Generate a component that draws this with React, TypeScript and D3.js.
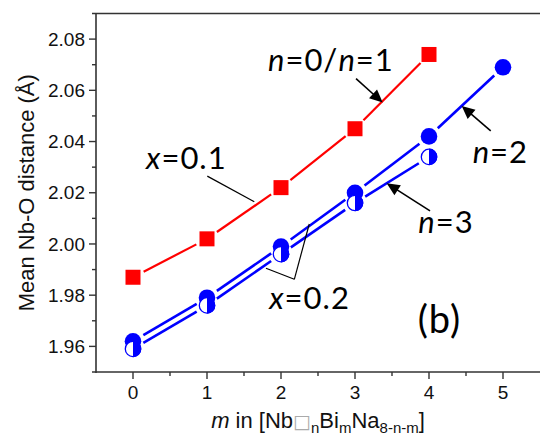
import React from "react";
import * as d3 from "d3";

// data
const mRed = [0, 1, 2, 3, 4];
const distRed = [1.987, 2.002, 2.022, 2.045, 2.074];
const mN2 = [0, 1, 2, 3, 4, 5];
const distN2 = [1.962, 1.979, 1.999, 2.02, 2.042, 2.069];
const mN3 = [0, 1, 2, 3, 4];
const distN3 = [1.959, 1.976, 1.996, 2.016, 2.034];

const xTicks = [0, 1, 2, 3, 4, 5];
const xMinor = [0.5, 1.5, 2.5, 3.5, 4.5];
const yTicks = [1.96, 1.98, 2.0, 2.02, 2.04, 2.06, 2.08];
const yMinor = [1.97, 1.99, 2.01, 2.03, 2.05, 2.07];

const W = 540;
const H = 438;
const margin = { top: 13.5, right: 0, bottom: 66, left: 96 };

const RED = "#ff0000";
const BLUE = "#0000ff";
const AXIS = "#333";
const tickFont = "'Liberation Sans', Arial, sans-serif";
const noteFont = "Lato, 'Open Sans', sans-serif";

const x = d3.scaleLinear().domain([-0.5, 5.5]).range([margin.left, W - margin.right]);
const y = d3.scaleLinear().domain([1.95, 2.09]).range([H - margin.bottom, margin.top]);

type Seg = [number, number, number, number];

// line segments that stop short of the markers (Origin style)
function gapSegments(xs: number[], ys: number[], gap: number): Seg[] {
  const pts = xs.map((v, i) => [x(v), y(ys[i])]);
  const segs: Seg[] = [];
  for (let i = 0; i < pts.length - 1; i++) {
    const [x1, y1] = pts[i];
    const [x2, y2] = pts[i + 1];
    const len = Math.hypot(x2 - x1, y2 - y1);
    const ux = (x2 - x1) / len;
    const uy = (y2 - y1) / len;
    segs.push([x1 + ux * gap, y1 + uy * gap, x2 - ux * gap, y2 - uy * gap]);
  }
  return segs;
}

const Arrow = ({ from, to }: { from: [number, number]; to: [number, number] }) => {
  const x1 = x(from[0]);
  const y1 = y(from[1]);
  const x2 = x(to[0]);
  const y2 = y(to[1]);
  const len = Math.hypot(x2 - x1, y2 - y1);
  const ux = (x2 - x1) / len;
  const uy = (y2 - y1) / len;
  const hl = 13;
  const hw = 6;
  const bx = x2 - ux * hl;
  const by = y2 - uy * hl;
  const pts = [
    [x2, y2],
    [bx - uy * hw, by + ux * hw],
    [bx + uy * hw, by - ux * hw],
  ];
  return (
    <g>
      <line x1={x1} y1={y1} x2={bx + ux * 2} y2={by + uy * 2} stroke="#000" strokeWidth={1.6} />
      <polygon points={pts.map((p) => p.join(",")).join(" ")} fill="#000" />
    </g>
  );
};

const Leader = ({ a, b }: { a: [number, number]; b: [number, number] }) => (
  <line x1={x(a[0])} y1={y(a[1])} x2={x(b[0])} y2={y(b[1])} stroke="#000" strokeWidth={1.2} />
);

const Note = ({ at, children, size = 31 }: { at: [number, number]; children: React.ReactNode; size?: number }) => (
  <text x={x(at[0])} y={y(at[1])} fontFamily={noteFont} fontSize={size} letterSpacing={1} fill="#000">
    {children}
  </text>
);

export default function App() {
  const r = 8.3;
  const sq = 15;
  const halfPath = `M0,${-r} A${r},${r} 0 0 1 0,${r} Z`;

  return (
    <svg width={W} height={H} style={{ position: "absolute", left: 0, top: 0, background: "#fff" }}>
      {/* axes frame */}
      <line x1={92} x2={W + 2} y1={y(2.09)} y2={y(2.09)} stroke={AXIS} strokeWidth={1.6} />
      <line x1={92} x2={W + 2} y1={y(1.95)} y2={y(1.95)} stroke={AXIS} strokeWidth={1.6} />
      <line x1={x(-0.5)} x2={x(-0.5)} y1={y(2.09)} y2={y(1.95) + 1} stroke={AXIS} strokeWidth={1.6} />

      {/* y ticks */}
      {yTicks.map((t) => (
        <g key={t}>
          <line x1={x(-0.5) - 7} x2={x(-0.5)} y1={y(t)} y2={y(t)} stroke={AXIS} strokeWidth={1.4} />
          <text
            x={x(-0.5) - 11}
            y={y(t)}
            dy="0.35em"
            textAnchor="end"
            fontFamily={tickFont}
            fontSize={19}
            fill="#111"
          >
            {t.toFixed(2)}
          </text>
        </g>
      ))}
      {yMinor.map((t) => (
        <line key={t} x1={x(-0.5) - 4} x2={x(-0.5)} y1={y(t)} y2={y(t)} stroke={AXIS} strokeWidth={1.4} />
      ))}

      {/* x ticks */}
      {xTicks.map((t) => (
        <g key={t}>
          <line x1={x(t)} x2={x(t)} y1={y(1.95)} y2={y(1.95) + 7} stroke={AXIS} strokeWidth={1.4} />
          <text x={x(t)} y={y(1.95) + 27} textAnchor="middle" fontFamily={tickFont} fontSize={19} fill="#111">
            {t}
          </text>
        </g>
      ))}
      {xMinor.map((t) => (
        <line key={t} x1={x(t)} x2={x(t)} y1={y(1.95)} y2={y(1.95) + 4} stroke={AXIS} strokeWidth={1.4} />
      ))}

      {/* axis titles */}
      <text
        transform={`translate(34,${(y(2.09) + y(1.95)) / 2}) rotate(-90)`}
        textAnchor="middle"
        fontFamily={tickFont}
        fontSize={22}
        fill="#111"
      >
        Mean Nb-O distance (Å)
      </text>
      <text x={(x(-0.5) + W) / 2} y={428} textAnchor="middle" fontFamily={tickFont} fontSize={22} fill="#111">
        <tspan fontStyle="italic">m</tspan>
        <tspan> in [Nb</tspan>
        <tspan fill="#aaa" fontFamily="'DejaVu Sans', sans-serif" fontSize={19}>□</tspan>
        <tspan dy={5} fontSize={15}>n</tspan>
        <tspan dy={-5}>Bi</tspan>
        <tspan dy={5} fontSize={15}>m</tspan>
        <tspan dy={-5}>Na</tspan>
        <tspan dy={5} fontSize={15}>8-n-m</tspan>
        <tspan dy={-5}>]</tspan>
      </text>

      {/* lines */}
      {gapSegments(mRed, distRed, 12).map((s, i) => (
        <line key={"r" + i} x1={s[0]} y1={s[1]} x2={s[2]} y2={s[3]} stroke={RED} strokeWidth={2.2} />
      ))}
      {gapSegments(mN2, distN2, 12).map((s, i) => (
        <line key={"b2" + i} x1={s[0]} y1={s[1]} x2={s[2]} y2={s[3]} stroke={BLUE} strokeWidth={2.6} />
      ))}
      {gapSegments(mN3, distN3, 12).map((s, i) => (
        <line key={"b3" + i} x1={s[0]} y1={s[1]} x2={s[2]} y2={s[3]} stroke={BLUE} strokeWidth={2.6} />
      ))}

      {/* markers */}
      {mRed.map((m, i) => (
        <rect key={"rs" + i} x={x(m) - sq / 2} y={y(distRed[i]) - sq / 2} width={sq} height={sq} fill={RED} />
      ))}
      {mN2.map((m, i) => (
        <circle key={"c2" + i} cx={x(m)} cy={y(distN2[i])} r={r} fill={BLUE} />
      ))}
      {mN3.map((m, i) => (
        <g key={"c3" + i} transform={`translate(${x(m)},${y(distN3[i])})`}>
          <circle r={r - 0.6} fill="#fff" stroke={BLUE} strokeWidth={1.3} />
          <path d={halfPath} fill={BLUE} />
        </g>
      ))}

      {/* annotations */}
      <Note at={[1.824, 2.0677]}>
        <tspan fontStyle="italic">n</tspan>=0/<tspan fontStyle="italic">n</tspan>=1
      </Note>
      <Arrow from={[3.014, 2.0646]} to={[3.374, 2.0552]} />

      <Note at={[0.176, 2.0293]}>
        <tspan fontStyle="italic">x</tspan>=0.1
      </Note>
      <Leader a={[1.004, 2.0265]} b={[1.639, 2.0165]} />

      <Note at={[4.59, 2.0315]}>
        <tspan fontStyle="italic">n</tspan>=2
      </Note>
      <Arrow from={[4.834, 2.0442]} to={[4.442, 2.0539]} />

      <Note at={[3.855, 2.0044]}>
        <tspan fontStyle="italic">n</tspan>=3
      </Note>
      <Arrow from={[4.014, 2.0129]} to={[3.428, 2.0237]} />

      <Note at={[1.841, 1.9747]}>
        <tspan fontStyle="italic">x</tspan>=0.2
      </Note>
      <Leader a={[2.18, 1.9862]} b={[1.797, 1.9905]} />
      <Leader a={[2.18, 1.9862]} b={[2.382, 2.0078]} />

      <Note at={[3.847, 1.9652]} size={38}>
        (b)
      </Note>
    </svg>
  );
}
